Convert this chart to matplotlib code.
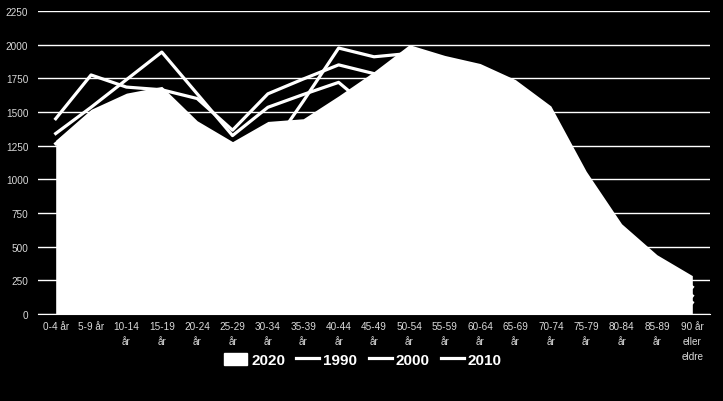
import numpy as np
import matplotlib
matplotlib.use('Agg')
import matplotlib.pyplot as plt
from matplotlib.patches import Patch
from matplotlib.lines import Line2D

plt.rcParams['font.family'] = ['Liberation Sans', 'DejaVu Sans']

# Age groups (x categories)
ages = ['0-4 år', '5-9 år', '10-14\når', '15-19\når', '20-24\når', '25-29\når',
        '30-34\når', '35-39\når', '40-44\når', '45-49\når', '50-54\når', '55-59\når',
        '60-64\når', '65-69\når', '70-74\når', '75-79\når', '80-84\når', '85-89\når',
        '90 år\neller\neldre']

# Population per age group
pop_2020 = [1290, 1520, 1640, 1690, 1435, 1280, 1430, 1450, 1620, 1800,
            2000, 1920, 1860, 1740, 1545, 1060, 670, 440, 285]
pop_1990 = [1340, 1535, 1740, 1945, 1635, 1325, 1535, 1630, 1720, 1500,
            1350, 1250, 1200, 1100, 950, 750, 500, 250, 85]
pop_2000 = [1450, 1775, 1685, 1665, 1600, 1365, 1635, 1745, 1850, 1785,
            1700, 1400, 1250, 1150, 1000, 850, 600, 330, 135]
pop_2010 = [1265, 1480, 1600, 1640, 1390, 1255, 1200, 1580, 1975, 1910,
            1935, 1850, 1650, 1450, 1250, 900, 620, 400, 200]

fig = plt.figure(figsize=(7.23, 4.02), dpi=100, facecolor='black')
ax = fig.add_axes([38 / 723, 1 - 315 / 402, 672 / 723, 303 / 402])
ax.set_facecolor('black')

x = np.arange(len(ages))
ax.fill_between(x, pop_2020, color='white', lw=0, zorder=3)
for vals in (pop_1990, pop_2000, pop_2010):
    ax.plot(x, vals, color='white', lw=2.3, zorder=2)

ax.set_xlim(-0.5, len(ages) - 0.5)
ax.set_ylim(0, 2250)
ax.set_yticks(range(0, 2251, 250))
ax.set_xticks(x)
ax.set_xticklabels(ages, linespacing=1.6)
ax.grid(axis='y', color='white', lw=1, zorder=0.5)
ax.set_axisbelow(True)
for s in ('left', 'right', 'top'):
    ax.spines[s].set_visible(False)
ax.spines['bottom'].set_color('white')
ax.spines['bottom'].set_zorder(4)
ax.tick_params(length=0, colors='#d9d9d9', labelsize=7.2)
ax.tick_params(axis='x', pad=5)
ax.tick_params(axis='y', pad=7)

handles = [Patch(facecolor='white', edgecolor='white', label='2020'),
           Line2D([], [], color='white', lw=2.3, label='1990'),
           Line2D([], [], color='white', lw=2.3, label='2000'),
           Line2D([], [], color='white', lw=2.3, label='2010')]
fig.legend(handles=handles, loc='center', bbox_to_anchor=(0.502, 0.102), ncol=4,
           frameon=False, labelcolor='white', handlelength=1.5, handleheight=0.8,
           handletextpad=0.25, columnspacing=0.75,
           prop={'weight': 'bold', 'size': 11})

fig.savefig('out.png', dpi=100, facecolor='black')
